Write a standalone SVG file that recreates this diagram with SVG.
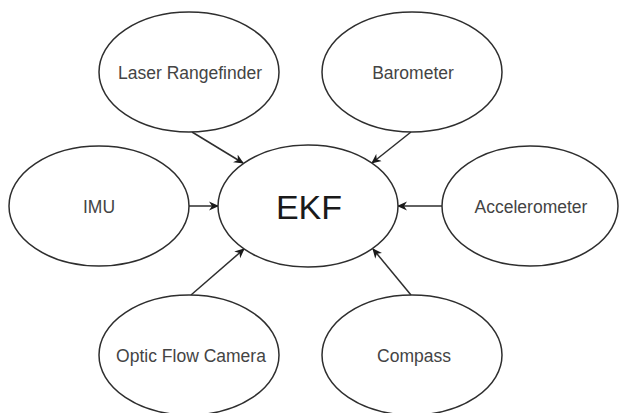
<svg xmlns="http://www.w3.org/2000/svg" width="619" height="413" viewBox="0 0 619 413">
<defs>
<style>
.node ellipse{fill:#fff;stroke:#2e2e2e;stroke-width:1.5}
.lbl{font-family:"Liberation Sans",Arial,sans-serif;font-size:17.5px;fill:#444;text-anchor:middle}
.big{font-family:"Liberation Sans",Arial,sans-serif;font-size:34px;fill:#1a1a1a;text-anchor:middle}
.edge{stroke:#2e2e2e;stroke-width:1.5;fill:none;marker-end:url(#arr)}
</style>
<marker id="arr" viewBox="0 0 10 10" refX="9" refY="5" markerWidth="10" markerHeight="10" markerUnits="userSpaceOnUse" orient="auto">
<path d="M0,0.5 L10,5 L0,9.5 L3,5 Z" fill="#1a1a1a"/>
</marker>
</defs>
<rect width="619" height="413" fill="#fff"/>
<g id="connectors">
<line class="edge" x1="192" y1="132" x2="243" y2="163"/>
<line class="edge" x1="411" y1="132" x2="372" y2="163"/>
<line class="edge" x1="189" y1="206" x2="218" y2="206"/>
<line class="edge" x1="442" y1="206" x2="398" y2="206"/>
<line class="edge" x1="191" y1="295" x2="244" y2="249"/>
<line class="edge" x1="411" y1="295" x2="373" y2="249"/>
</g>
<g id="laser" class="node"><ellipse cx="189" cy="72" rx="90" ry="60"/><text class="lbl" x="190" y="79">Laser Rangefinder</text></g>
<g id="barometer" class="node"><ellipse cx="412" cy="72" rx="90" ry="60"/><text class="lbl" x="413" y="79">Barometer</text></g>
<g id="imu" class="node"><ellipse cx="99" cy="206" rx="90" ry="60"/><text class="lbl" x="99" y="213">IMU</text></g>
<g id="ekf" class="node"><ellipse cx="308" cy="206" rx="90" ry="61"/><text class="big" x="309" y="219">EKF</text></g>
<g id="accelerometer" class="node"><ellipse cx="530" cy="206" rx="88" ry="60"/><text class="lbl" x="531" y="213">Accelerometer</text></g>
<g id="opticflow" class="node"><ellipse cx="189" cy="355" rx="90" ry="60"/><text class="lbl" x="191" y="362">Optic Flow Camera</text></g>
<g id="compass" class="node"><ellipse cx="412" cy="355" rx="90" ry="60"/><text class="lbl" x="414" y="362">Compass</text></g>
</svg>
